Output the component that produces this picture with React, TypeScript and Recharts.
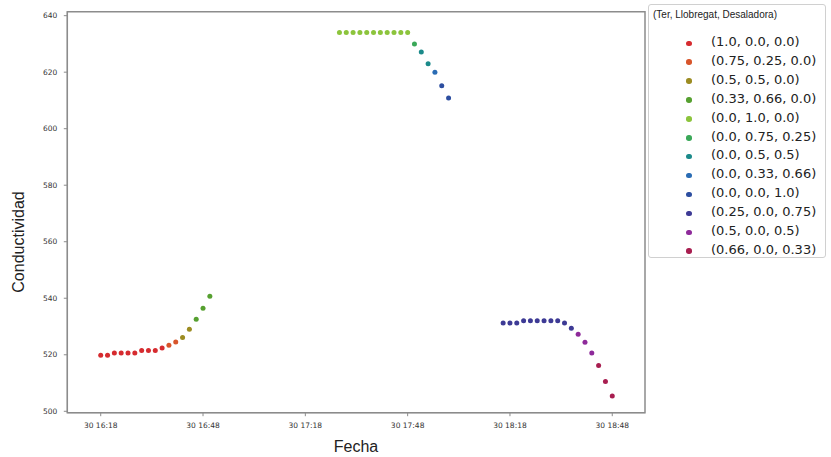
import React from 'react'
import { ScatterChart, Scatter, XAxis, YAxis, ReferenceArea, Label } from 'recharts'

// leyenda: (Ter, Llobregat, Desaladora)
const mezclas = [
  '(1.0, 0.0, 0.0)',
  '(0.75, 0.25, 0.0)',
  '(0.5, 0.5, 0.0)',
  '(0.33, 0.66, 0.0)',
  '(0.0, 1.0, 0.0)',
  '(0.0, 0.75, 0.25)',
  '(0.0, 0.5, 0.5)',
  '(0.0, 0.33, 0.66)',
  '(0.0, 0.0, 1.0)',
  '(0.25, 0.0, 0.75)',
  '(0.5, 0.0, 0.5)',
  '(0.66, 0.0, 0.33)',
]
const colores = [
  '#d62b2f', '#d8552b', '#9c8c22', '#56a030', '#8cc43c', '#3aa858',
  '#1b8a8a', '#2a6cb4', '#2d4ea0', '#3d3a95', '#8e2a9a', '#a81e50',
]

const tickMinutos = [0, 30, 60, 90, 120, 150]
const tickEtiquetas = ['30 16:18', '30 16:48', '30 17:18', '30 17:48', '30 18:18', '30 18:48']
const tickConductividad = [500, 520, 540, 560, 580, 600, 620, 640]

// minutos desde las 16:18
const minutos = [
  0, 2, 4, 6, 8, 10, 12, 14, 16, 18, 20, 22, 24, 26, 28, 30, 32,
  70, 72, 74, 76, 78, 80, 82, 84, 86, 88, 90, 92, 94, 96, 98, 100, 102,
  118, 120, 122, 124, 126, 128, 130, 132, 134, 136, 138, 140, 142, 144, 146, 148, 150,
]
const conductividad = [
  519.8, 519.8, 520.6, 520.6, 520.6, 520.6, 521.5, 521.5, 521.5, 522.4, 523.4, 524.5, 526.1, 529.0, 532.6, 536.5, 540.7,
  634.0, 634.0, 634.0, 634.0, 634.0, 634.0, 634.0, 634.0, 634.0, 634.0, 634.0, 630.0, 627.1, 623.0, 620.0, 615.2, 610.9,
  531.2, 531.2, 531.2, 532.0, 532.0, 532.0, 532.0, 532.0, 532.0, 531.2, 529.4, 527.3, 524.4, 520.6, 516.2, 510.5, 505.4,
]
const mezcla = [
  0, 0, 0, 0, 0, 0, 0, 0, 0, 0, 1, 1, 2, 2, 3, 3, 3,
  4, 4, 4, 4, 4, 4, 4, 4, 4, 4, 4, 5, 6, 6, 7, 8, 8,
  9, 9, 9, 9, 9, 9, 9, 9, 9, 9, 9, 10, 10, 10, 11, 11, 11,
]

const puntos = minutos.map((t, i) => ({ t, c: conductividad[i], m: mezcla[i] }))

const fuente = '"DejaVu Sans", sans-serif'
const fuenteEjes = '"Liberation Sans", Arial, sans-serif'
const marco = '#8c8c8c'

const Leyenda = () => (
  <div style={{
    position: 'absolute', left: 648, top: 4, width: 176, height: 252,
    border: '1px solid #d0d0d0', borderRadius: 3, background: '#fff',
    fontFamily: fuente, color: '#222',
  }}>
    <div style={{ position: 'absolute', left: 4, top: 4, fontSize: 10, whiteSpace: 'nowrap', fontFamily: fuenteEjes }}>
      (Ter, Llobregat, Desaladora)
    </div>
    {mezclas.map((m, i) => (
      <div key={m} style={{ position: 'absolute', left: 0, top: 29 + i * 18.9, height: 18, width: 176 }}>
        <span style={{
          position: 'absolute', left: 37, top: 6.5, width: 5.5, height: 5.5,
          borderRadius: '50%', background: colores[i],
        }} />
        <span style={{ position: 'absolute', left: 62, top: 0, fontSize: 13, whiteSpace: 'nowrap' }}>{m}</span>
      </div>
    ))}
  </div>
)

export default function App() {
  return (
    <div style={{ position: 'absolute', left: 0, top: 0, width: 831, height: 457, overflow: 'hidden', background: '#fff' }}>
      <ScatterChart width={831} height={457} margin={{ top: 11.7, right: 186, left: 7.3, bottom: 0 }}>
        <XAxis
          type='number' dataKey='t' domain={[-9.8, 159.6]} ticks={tickMinutos}
          tickFormatter={(v: number) => tickEtiquetas[tickMinutos.indexOf(v)]}
          height={44.3} tickSize={3.5} tickMargin={6}
          stroke={marco} tick={{ fill: '#333', fontSize: 7.5, fontFamily: fuente }}
          allowDataOverflow
        >
          <Label content={() => (
            <text x={356} y={452} textAnchor='middle' fontSize={16} fontFamily={fuenteEjes} fill='#222'>Fecha</text>
          )} />
        </XAxis>
        <YAxis
          type='number' dataKey='c' domain={[499.5, 641.4]} ticks={tickConductividad}
          width={60} tickSize={3.5} tickMargin={6.5}
          stroke={marco} tick={{ fill: '#333', fontSize: 7.5, fontFamily: fuente }}
          allowDataOverflow
        >
          <Label content={() => (
            <text x={24} y={242} transform='rotate(-90 24 242)' textAnchor='middle' fontSize={16} fontFamily={fuenteEjes} fill='#222'>Conductividad</text>
          )} />
        </YAxis>
        <ReferenceArea x1={-9.8} x2={159.6} y1={499.5} y2={641.4} fill='none' stroke={marco} strokeWidth={1.5} ifOverflow='visible' />
        {mezclas.map((m, i) => (
          <Scatter
            key={m} name={m} data={puntos.filter(p => p.m === i)} isAnimationActive={false}
            shape={(p: any) => <circle cx={p.cx} cy={p.cy} r={2.5} fill={colores[i]} />}
          />
        ))}
      </ScatterChart>
      <Leyenda />
    </div>
  )
}
